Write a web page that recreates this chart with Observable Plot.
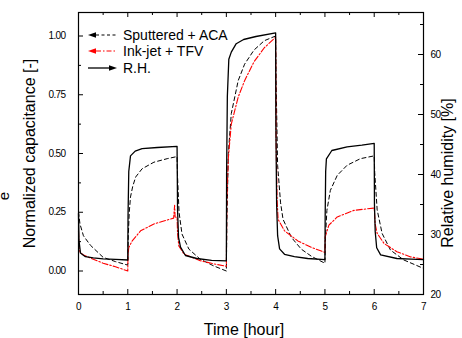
<!DOCTYPE html>
<html><head><meta charset="utf-8">
<script src="https://cdn.jsdelivr.net/npm/d3@7"></script>
<script src="https://cdn.jsdelivr.net/npm/@observablehq/plot@0.6"></script>
<style>html,body{margin:0;padding:0;background:#fff}</style>
</head><body><div id="chart"></div>
<script>
// Sputtered + ACA: [time h, normalized capacitance]
const sputtered = [[0,0.25],[0.03,0.2],[0.1,0.15],[0.24,0.11],[0.5,0.058],[0.75,0.04],[1.0,0.025],
[1.01,0.15],[1.03,0.25],[1.055,0.315],[1.1,0.36],[1.16,0.40],[1.29,0.435],[1.53,0.463],[1.8,0.478],[2.0,0.487],
[2.01,0.40],[2.04,0.25],[2.1,0.157],[2.24,0.093],[2.47,0.05],[2.74,0.022],[3.0,0.0],
[3.01,0.2],[3.04,0.5],[3.1,0.67],[3.24,0.81],[3.37,0.88],[3.56,0.94],[3.77,0.98],[4.0,1.0],
[4.01,0.8],[4.04,0.45],[4.1,0.29],[4.15,0.22],[4.32,0.143],[4.52,0.093],[4.73,0.062],[5.0,0.033],
[5.01,0.14],[5.04,0.258],[5.11,0.343],[5.25,0.407],[5.45,0.45],[5.72,0.478],[6.0,0.49],
[6.01,0.42],[6.06,0.26],[6.16,0.16],[6.33,0.089],[6.6,0.047],[7.0,0.011]];
// Ink-jet + TFV: [time h, normalized capacitance]
const inkjet = [[0,0.17],[0.01,0.1],[0.03,0.08],[0.1,0.068],[0.3,0.05],[0.5,0.033],[0.75,0.018],[1.0,0.0],
[1.003,0.06],[1.02,0.1],[1.09,0.128],[1.26,0.171],[1.53,0.2],[1.93,0.225],[1.95,0.28],[1.96,0.23],[2.0,0.228],
[2.01,0.16],[2.035,0.107],[2.14,0.072],[2.47,0.044],[2.75,0.03],[3.0,0.02],
[3.01,0.3],[3.04,0.48],[3.1,0.625],[3.24,0.74],[3.37,0.81],[3.56,0.89],[3.77,0.95],[4.0,0.995],
[4.01,0.55],[4.03,0.3],[4.05,0.22],[4.18,0.171],[4.45,0.128],[4.73,0.10],[5.0,0.079],
[5.005,0.145],[5.08,0.195],[5.25,0.23],[5.59,0.258],[6.0,0.268],
[6.02,0.2],[6.06,0.16],[6.2,0.117],[6.46,0.082],[6.74,0.06],[7.0,0.05]];
// R.H.: [time h, relative humidity %]
const rh = [[0,33.5],[0.01,29.0],[0.04,26.9],[0.14,26.3],[0.3,26.1],[0.5,25.95],[0.75,25.85],[1.0,25.75],
[1.005,33],[1.02,40.5],[1.055,43.1],[1.15,43.9],[1.29,44.3],[1.6,44.5],[2.0,44.7],
[2.01,34],[2.03,29.5],[2.07,27.9],[2.17,26.5],[2.4,26.0],[2.7,25.7],[3.0,25.6],
[3.005,40],[3.02,53],[3.05,59.2],[3.1,60.4],[3.2,61.8],[3.35,62.5],[3.6,63.0],[4.0,63.6],
[4.005,48],[4.02,35],[4.04,29.8],[4.08,27.6],[4.18,26.7],[4.38,26.3],[4.65,26.0],[5.0,25.8],
[5.005,33],[5.015,40.5],[5.03,42.6],[5.14,44.0],[5.45,44.6],[5.75,44.9],[6.0,45.2],
[6.005,35],[6.02,30.5],[6.05,27.8],[6.13,26.6],[6.46,26.0],[6.75,25.9],[7.0,25.8]];

const capTicks = [0, 0.25, 0.5, 0.75, 1.0];
const capMinor = [0.125, 0.375, 0.625, 0.875];
const timeTicks = [0, 1, 2, 3, 4, 5, 6, 7];
const timeMinor = [0.5, 1.5, 2.5, 3.5, 4.5, 5.5, 6.5];
const rhTicks = [20, 30, 40, 50, 60];
const rhMinor = [25, 35, 45, 55, 65];
const capDomain = [-0.1, 1.1];
const rhDomain = [20, 67];
const legendLabels = ["Sputtered + ACA", "Ink-jet + TFV", "R.H."];

const toCap = d3.scaleLinear().domain(rhDomain).range(capDomain);

const W = 462, H = 338, mL = 78, mR = 39, mT = 12, mB = 44;
const iw = W - mL - mR, ih = H - mT - mB;

const chart = Plot.plot({
  width: W, height: H,
  marginLeft: mL, marginRight: mR, marginTop: mT, marginBottom: mB,
  style: {fontFamily: "Liberation Sans, Arial, sans-serif", fontSize: "10px", letterSpacing: "-0.6px", background: "white", color: "black"},
  x: {domain: [0, 7]},
  y: {domain: capDomain},
  marks: [
    Plot.line(sputtered, {x: d => d[0], y: d => d[1], stroke: "black", strokeWidth: 1, strokeDasharray: "4,3"}),
    Plot.line(inkjet, {x: d => d[0], y: d => d[1], stroke: "#ff0000", strokeWidth: 1.1, strokeDasharray: "6,2,1.5,2"}),
    Plot.line(rh, {x: d => d[0], y: d => toCap(d[1]), stroke: "black", strokeWidth: 1.3}),
    Plot.tickY(capTicks, {y: d => d, insetRight: iw - 5, stroke: "black"}),
    Plot.tickY(capMinor, {y: d => d, insetRight: iw - 3, stroke: "black"}),
    Plot.tickY(rhTicks, {y: d => toCap(d), insetLeft: iw - 5, stroke: "black"}),
    Plot.tickY(rhMinor, {y: d => toCap(d), insetLeft: iw - 3, stroke: "black"}),
    Plot.tickX(timeTicks, {x: d => d, insetTop: ih - 5, stroke: "black"}),
    Plot.tickX(timeMinor, {x: d => d, insetTop: ih - 3, stroke: "black"}),
    Plot.tickX(timeTicks, {x: d => d, insetBottom: ih - 5, stroke: "black"}),
    Plot.tickX(timeMinor, {x: d => d, insetBottom: ih - 3, stroke: "black"}),
    Plot.frame({stroke: "black", strokeWidth: 1.2}),
    Plot.axisX(timeTicks, {tickSize: 0, tickPadding: 8, label: null, tickFormat: d => String(d)}),
    Plot.axisY(capTicks, {tickSize: 0, tickPadding: 13, label: null, tickFormat: d3.format(".2f")}),
    Plot.axisY(rhTicks.map(v => toCap(v)), {anchor: "right", tickSize: 0, tickPadding: 7, label: null, tickFormat: v => String(Math.round(toCap.invert(v)))})
  ]
});

document.getElementById("chart").appendChild(chart);
const svg = d3.select(chart);
const tstyle = sel => sel.style("font-family", "Liberation Sans, Arial, sans-serif").style("letter-spacing", "0px").attr("fill", "black");

svg.append("text").call(tstyle).attr("transform", "translate(35,153.5) rotate(-90)")
  .attr("text-anchor", "middle").style("font-size", "16px").text("Normalized capacitance [-]");
svg.append("text").call(tstyle).attr("transform", "translate(453,173) rotate(-90)")
  .attr("text-anchor", "middle").style("font-size", "16px").text("Relative humidity [%]");
svg.append("text").call(tstyle).attr("x", 244).attr("y", 335)
  .attr("text-anchor", "middle").style("font-size", "16px").text("Time [hour]");
svg.append("text").call(tstyle).attr("transform", "translate(9,196) rotate(-90)")
  .attr("text-anchor", "middle").style("font-size", "15px").text("e");

// legend
const lg = svg.append("g").attr("text-anchor", "start");
const rows = [
  {y: 35, stroke: "black", dash: "3,2.5", head: "left"},
  {y: 51, stroke: "#ff0000", dash: "5,2,1.5,2", head: "left"},
  {y: 68, stroke: "black", dash: null, head: "right"}
];
rows.forEach((r, i) => {
  if (r.head === "left") {
    lg.append("path").attr("d", `M88,${r.y}L96,${r.y - 2.8}L96,${r.y + 2.8}Z`).attr("fill", r.stroke);
    lg.append("line").attr("x1", 96).attr("x2", 116).attr("y1", r.y).attr("y2", r.y)
      .attr("stroke", r.stroke).attr("stroke-width", 1.1).attr("stroke-dasharray", r.dash);
  } else {
    lg.append("line").attr("x1", 88).attr("x2", 109).attr("y1", r.y).attr("y2", r.y)
      .attr("stroke", r.stroke).attr("stroke-width", 1.3);
    lg.append("path").attr("d", `M117,${r.y}L109,${r.y - 2.8}L109,${r.y + 2.8}Z`).attr("fill", r.stroke);
  }
  lg.append("text").call(tstyle).attr("text-anchor", "start").attr("x", 123).attr("y", r.y + 5)
    .style("font-size", "14px").text(legendLabels[i]);
});
</script></body></html>
